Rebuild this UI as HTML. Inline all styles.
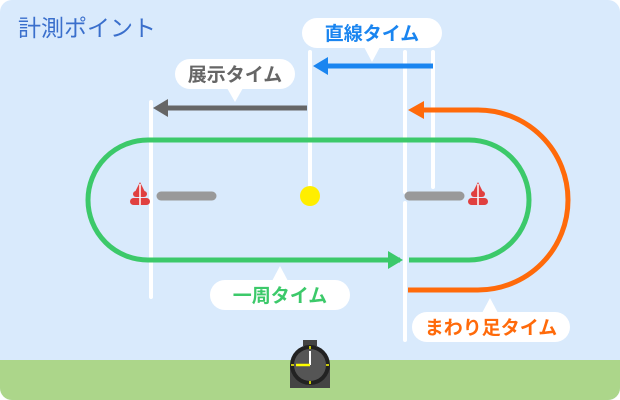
<!DOCTYPE html>
<html><head><meta charset="utf-8"><style>
html,body{margin:0;padding:0;background:#fff}
svg{display:block}
text{font-family:"Liberation Sans","Noto Sans CJK JP",sans-serif}
</style></head><body>
<svg width="620" height="400" viewBox="0 0 620 400" xmlns="http://www.w3.org/2000/svg">
<defs><clipPath id="c"><rect x="0" y="0" width="620" height="400" rx="12"/></clipPath></defs>
<g clip-path="url(#c)">
<rect width="620" height="400" fill="#d9eafc"/>
<rect y="360" width="620" height="40" fill="#acd68a"/>
</g>
<text x="18" y="36" font-size="23" fill="#3a6fcc">計測ポイント</text>
<g stroke="#fff" stroke-width="4" stroke-linecap="round">
<line x1="151" y1="102" x2="151" y2="297"/>
<line x1="310" y1="52" x2="310" y2="190"/>
<line x1="405" y1="52" x2="405" y2="192"/>
<line x1="405" y1="203" x2="405" y2="340"/>
<line x1="433" y1="52" x2="433" y2="187"/>
</g>
<path d="M400 260 H148 A60 60 0 0 1 88 200 A60 60 0 0 1 148 140 H469 A60 60 0 0 1 529 200 A60 60 0 0 1 469 260 H409" fill="none" stroke="#3cc96a" stroke-width="5"/>
<path d="M403 260 L388 251 L388 269 Z" fill="#3cc96a"/>
<path d="M408 290 H478 A90 90 0 0 0 568 200 A90 90 0 0 0 478 110 H422" fill="none" stroke="#ff6a0a" stroke-width="5"/>
<path d="M408 110 L424 101 L424 119 Z" fill="#ff6a0a"/>
<line x1="433" y1="66" x2="325" y2="66" stroke="#1a85f0" stroke-width="5"/>
<path d="M313 66 L328 57 L328 75 Z" fill="#1a85f0"/>
<line x1="307" y1="108" x2="165" y2="108" stroke="#666" stroke-width="5"/>
<path d="M153 108 L168 99 L168 117 Z" fill="#666"/>
<g stroke="#999" stroke-width="9" stroke-linecap="round">
<line x1="161" y1="196" x2="212" y2="196"/>
<line x1="409" y1="196" x2="460" y2="196"/>
</g>
<circle cx="310" cy="196" r="10" fill="#ffee00"/>
<g fill="#e04040">
<path d="M140 182 L135 192 H145 Z"/><rect x="133" y="191" width="14" height="6" rx="3"/><rect x="130" y="198" width="20" height="7" rx="3.5"/>
<path d="M478 182 L473 192 H483 Z"/><rect x="471" y="191" width="14" height="6" rx="3"/><rect x="468" y="198" width="20" height="7" rx="3.5"/>
</g>
<line x1="140" y1="184" x2="140" y2="205" stroke="#fff" stroke-width="1.5"/>
<line x1="478" y1="184" x2="478" y2="205" stroke="#fff" stroke-width="1.5"/>
<g fill="#fff">
<rect x="302" y="18" width="140" height="30" rx="15"/><path d="M364 47 L372 62 L380 47 Z"/>
<rect x="175" y="59" width="120" height="30" rx="15"/><path d="M227 88 L235 102 L243 88 Z"/>
<rect x="210" y="280" width="140" height="30" rx="15"/><path d="M272 281 L280 266 L288 281 Z"/>
<rect x="412" y="312" width="158" height="30" rx="15"/><path d="M482 313 L490 298 L498 313 Z"/>
</g>
<g font-size="19" font-weight="bold" text-anchor="middle">
<text x="372" y="40" fill="#1a85f0">直線タイム</text>
<text x="235" y="81" fill="#666">展示タイム</text>
<text x="280" y="302" fill="#3cc96a">一周タイム</text>
<text x="491" y="334" fill="#ff6a0a">まわり足タイム</text>
</g>
<rect x="303" y="340" width="14" height="6" fill="#444"/>
<rect x="290" y="365" width="40" height="23" fill="#444"/>
<circle cx="310" cy="365" r="20" fill="#222"/>
<circle cx="310" cy="365" r="16" fill="#555"/>
<g stroke="#ff0" stroke-width="1.5">
<line x1="310" y1="346" x2="310" y2="349"/><line x1="310" y1="381" x2="310" y2="384"/>
<line x1="291" y1="365" x2="294" y2="365"/><line x1="326" y1="365" x2="329" y2="365"/>
</g>
<line x1="310" y1="365" x2="310" y2="351" stroke="#fff" stroke-width="2"/>
<line x1="310" y1="365" x2="296" y2="365" stroke="#ff0" stroke-width="2.5"/>
</svg>
</body></html>
